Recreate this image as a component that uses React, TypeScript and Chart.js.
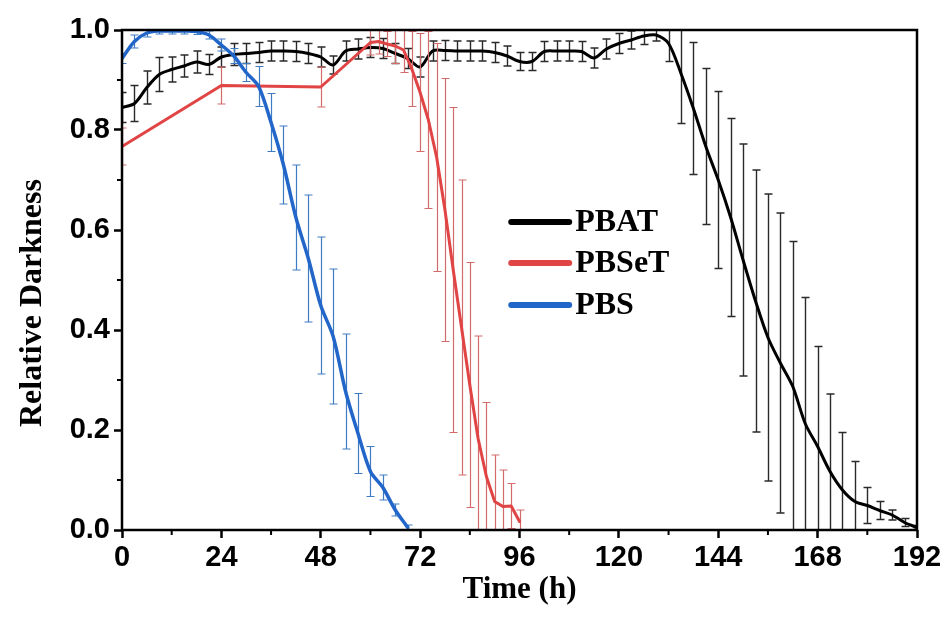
import React, { useEffect, useRef } from 'react';
import { Chart, registerables } from 'chart.js';

Chart.register(...registerables);

// ---------- data ----------
const seriesNames = ['PBAT', 'PBSeT', 'PBS'];

const pbatTime = [0, 3, 6, 9, 12, 15, 18, 21, 24, 27, 30, 33, 36, 39, 42, 45, 48, 51, 54, 57, 60, 63, 66, 69, 72, 75, 78, 81, 84, 87, 90, 93, 96, 99, 102, 105, 108, 111, 114, 117, 120, 123, 126, 129, 132, 135, 138, 141, 144, 147, 150, 153, 156, 159, 162, 165, 168, 171, 174, 177, 180, 183, 186, 189, 192];
const pbatValue = [0.845, 0.853, 0.885, 0.911, 0.921, 0.928, 0.936, 0.931, 0.946, 0.951, 0.953, 0.955, 0.958, 0.958, 0.957, 0.953, 0.946, 0.93, 0.958, 0.962, 0.965, 0.963, 0.953, 0.943, 0.926, 0.958, 0.959, 0.958, 0.958, 0.958, 0.955, 0.948, 0.937, 0.937, 0.957, 0.958, 0.958, 0.957, 0.944, 0.962, 0.973, 0.98, 0.988, 0.99, 0.973, 0.913, 0.843, 0.767, 0.7, 0.625, 0.54, 0.458, 0.385, 0.334, 0.287, 0.213, 0.167, 0.117, 0.08, 0.057, 0.049, 0.039, 0.03, 0.015, 0.005];
const pbatError = [0.03, 0.036, 0.033, 0.034, 0.025, 0.022, 0.022, 0.02, 0.02, 0.022, 0.02, 0.02, 0.02, 0.02, 0.02, 0.02, 0.02, 0.018, 0.02, 0.02, 0.02, 0.02, 0.02, 0.02, 0.02, 0.02, 0.02, 0.02, 0.02, 0.02, 0.02, 0.02, 0.018, 0.018, 0.02, 0.02, 0.02, 0.02, 0.02, 0.02, 0.02, 0.018, 0.017, 0.012, 0.036, 0.1, 0.132, 0.156, 0.177, 0.198, 0.232, 0.262, 0.287, 0.3, 0.29, 0.252, 0.2, 0.155, 0.115, 0.08, 0.036, 0.018, 0.01, 0.008, 0.004];

const pbsetTime = [0, 24, 48, 60, 62, 64, 66, 68, 70, 72, 74, 76, 78, 80, 82, 84, 86, 88, 90, 92, 94, 96];
const pbsetValue = [0.767, 0.889, 0.886, 0.975, 0.977, 0.972, 0.968, 0.96, 0.922, 0.875, 0.82, 0.745, 0.64, 0.52, 0.405, 0.29, 0.183, 0.107, 0.057, 0.047, 0.048, 0.017];
const pbsetError = [0.037, 0.037, 0.04, 0.025, 0.025, 0.025, 0.035, 0.045, 0.075, 0.118, 0.177, 0.228, 0.263, 0.325, 0.295, 0.245, 0.205, 0.148, 0.093, 0.073, 0.045, 0.023];

const pbsTime = [0, 3, 6, 9, 12, 15, 18, 21, 24, 27, 30, 33, 36, 39, 42, 45, 48, 51, 54, 57, 60, 63, 66, 69];
const pbsValue = [0.943, 0.977, 0.994, 0.998, 0.998, 0.998, 0.997, 0.99, 0.97, 0.948, 0.915, 0.887, 0.815, 0.73, 0.625, 0.543, 0.449, 0.387, 0.277, 0.193, 0.117, 0.085, 0.04, 0.005];
const pbsError = [0.01, 0.013, 0.008, 0.006, 0.006, 0.006, 0.006, 0.008, 0.012, 0.015, 0.018, 0.04, 0.058, 0.078, 0.105, 0.127, 0.137, 0.135, 0.115, 0.08, 0.05, 0.025, 0.012, 0.005];

const xMin = 0;
const xMax = 192;
const xStep = 24;
const yMin = 0;
const yMax = 1;
const yStep = 0.2;

const xTitle = 'Time (h)';
const yTitle = 'Relative Darkness';

const lineColors = ['#000000', '#e04444', '#2166c8'];
const errorColors = ['#2a2a2a', '#d46a6a', '#3f7cc4'];

// ---------- plugins ----------
const errorBarPlugin = {
  id: 'errorBars',
  beforeDatasetDraw(chart: any, args: any) {
    const ds = chart.data.datasets[args.index];
    const errs: number[] = ds.errors;
    if (!errs) return;
    const { ctx, chartArea: a, scales } = chart;
    const xs = scales.x;
    const ys = scales.y;
    const cap = 4;
    ctx.save();
    ctx.beginPath();
    ctx.rect(a.left, a.top, a.right - a.left, a.bottom - a.top);
    ctx.clip();
    ctx.strokeStyle = ds.errorColor;
    ctx.lineWidth = ds.errorWidth;
    ds.data.forEach((p: any, i: number) => {
      const px = Math.round(xs.getPixelForValue(p.x)) + 0.5;
      const top = ys.getPixelForValue(p.y + errs[i]);
      const bot = ys.getPixelForValue(p.y - errs[i]);
      ctx.beginPath();
      ctx.moveTo(px, top);
      ctx.lineTo(px, bot);
      ctx.moveTo(px - cap, top);
      ctx.lineTo(px + cap, top);
      ctx.moveTo(px - cap, bot);
      ctx.lineTo(px + cap, bot);
      ctx.stroke();
    });
    ctx.restore();
  },
};

const framePlugin = {
  id: 'frameAndLegend',
  afterDraw(chart: any) {
    const { ctx, chartArea: a, scales } = chart;
    const xs = scales.x;
    const ys = scales.y;
    ctx.save();
    // frame
    ctx.strokeStyle = '#000';
    ctx.lineWidth = 2.5;
    ctx.strokeRect(a.left, a.top, a.right - a.left, a.bottom - a.top);
    // minor ticks
    ctx.lineWidth = 2;
    ctx.beginPath();
    for (let v = xMin + xStep / 2; v < xMax; v += xStep) {
      const px = xs.getPixelForValue(v);
      ctx.moveTo(px, a.bottom);
      ctx.lineTo(px, a.bottom + 5);
    }
    for (let v = yMin + yStep / 2; v < yMax; v += yStep) {
      const py = ys.getPixelForValue(v);
      ctx.moveTo(a.left, py);
      ctx.lineTo(a.left - 5, py);
    }
    ctx.stroke();
    // y axis title
    ctx.save();
    ctx.translate(41, (a.top + a.bottom) / 2 + 23);
    ctx.rotate(-Math.PI / 2);
    ctx.font = 'bold 32px "Liberation Serif", "Times New Roman", serif';
    ctx.fillStyle = '#000';
    ctx.textAlign = 'center';
    ctx.textBaseline = 'alphabetic';
    ctx.fillText(yTitle, 0, 0);
    ctx.restore();
    // legend
    const lx0 = xs.getPixelForValue(94);
    const lx1 = xs.getPixelForValue(108);
    const rowY = [0.616, 0.534, 0.45];
    ctx.font = 'bold 32px "Liberation Serif", "Times New Roman", serif';
    ctx.textBaseline = 'middle';
    ctx.textAlign = 'left';
    chart.data.datasets.forEach((ds: any, i: number) => {
      const py = ys.getPixelForValue(rowY[i]);
      ctx.strokeStyle = ds.borderColor;
      ctx.lineWidth = 6;
      ctx.lineCap = 'round';
      ctx.beginPath();
      ctx.moveTo(lx0, py);
      ctx.lineTo(lx1, py);
      ctx.stroke();
      ctx.fillStyle = '#000';
      ctx.fillText(ds.label, lx1 + 6, py + 1);
    });
    ctx.restore();
  },
};

function toPoints(t: number[], v: number[]) {
  return t.map((x, i) => ({ x, y: v[i] }));
}

export default function App() {
  const canvasRef = useRef<HTMLCanvasElement | null>(null);

  useEffect(() => {
    const canvas = canvasRef.current;
    if (!canvas) return;
    const tickFont = { family: '"Liberation Sans", Arial, sans-serif', size: 29, weight: 'bold' as const };
    const titleFont = { family: '"Liberation Serif", "Times New Roman", serif', size: 31, weight: 'bold' as const };
    const chart = new Chart(canvas, {
      type: 'line',
      data: {
        datasets: [
          {
            label: seriesNames[0],
            data: toPoints(pbatTime, pbatValue),
            borderColor: lineColors[0],
            borderWidth: 3,
            pointRadius: 0,
            tension: 0.3,
            order: 3,
            errors: pbatError,
            errorColor: errorColors[0],
            errorWidth: 1.4,
          } as any,
          {
            label: seriesNames[1],
            data: toPoints(pbsetTime, pbsetValue),
            borderColor: lineColors[1],
            borderWidth: 3,
            pointRadius: 0,
            tension: 0,
            order: 2,
            errors: pbsetError,
            errorColor: errorColors[1],
            errorWidth: 1.2,
          } as any,
          {
            label: seriesNames[2],
            data: toPoints(pbsTime, pbsValue),
            borderColor: lineColors[2],
            borderWidth: 3.5,
            pointRadius: 0,
            tension: 0.3,
            order: 1,
            errors: pbsError,
            errorColor: errorColors[2],
            errorWidth: 1.2,
          } as any,
        ],
      },
      options: {
        animation: false,
        responsive: false,
        maintainAspectRatio: false,
        layout: { padding: { top: 30, right: 28, left: 0, bottom: 0 } },
        plugins: {
          legend: { display: false },
          tooltip: { enabled: false },
        },
        elements: { line: { borderCapStyle: 'round', borderJoinStyle: 'round' } },
        scales: {
          x: {
            type: 'linear',
            min: xMin,
            max: xMax,
            ticks: {
              stepSize: xStep,
              color: '#000',
              font: tickFont,
              padding: 3,
              maxRotation: 0,
              autoSkip: false,
            },
            grid: { drawOnChartArea: false, tickLength: 8, tickWidth: 2.5, tickColor: '#000' },
            border: { display: false },
            title: { display: true, text: xTitle, color: '#000', font: titleFont, padding: { top: 0, bottom: 17 } },
            afterFit: (s: any) => { s.height = 96; },
          },
          y: {
            type: 'linear',
            min: yMin,
            max: yMax,
            ticks: {
              stepSize: yStep,
              color: '#000',
              font: tickFont,
              padding: 4,
              callback: (v: any) => Number(v).toFixed(1),
            },
            grid: { drawOnChartArea: false, tickLength: 8, tickWidth: 2.5, tickColor: '#000' },
            border: { display: false },
            title: { display: false, text: yTitle },
            afterFit: (s: any) => { s.width = 122; },
          },
        },
      },
      plugins: [errorBarPlugin, framePlugin],
    });
    return () => chart.destroy();
  }, []);

  return (
    <div style={{ position: 'absolute', left: 0, top: 0, width: 945, height: 626, background: '#fff' }}>
      <canvas ref={canvasRef} width={945} height={626} style={{ display: 'block' }} />
    </div>
  );
}
